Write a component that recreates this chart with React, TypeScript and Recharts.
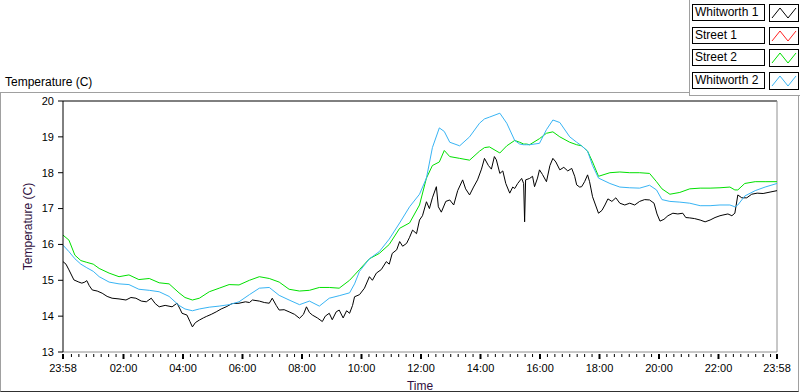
import { LineChart, Line, XAxis, YAxis, ReferenceLine } from 'recharts';

// all times are minutes after 23:58 (start of the record)

// Whitworth 1 is logged more finely, so it has its own time list
const w1Minutes = [
  0, 6, 12, 22, 32, 38, 44, 48, 53, 59, 69, 79, 89, 99, 113, 127, 137, 147, 158, 168,
  178, 186, 194, 206, 220, 230, 236, 240, 250, 256, 261, 267, 275, 283, 289, 299, 309, 319, 329, 341,
  355, 368, 376, 382, 396, 406, 416, 422, 430, 436, 446, 456, 467, 477, 485, 491, 497, 503, 513, 523,
  529, 537, 543, 551, 557, 565, 572, 578, 584, 588, 598, 608, 618, 624, 632, 642, 652, 658, 664, 673,
  679, 685, 693, 699, 705, 713, 719, 725, 733, 739, 745, 753, 757, 763, 772, 780, 788, 796, 806, 812,
  820, 828, 836, 844, 850, 858, 864, 870, 874, 881, 887, 893, 901, 907, 911, 917, 925, 929, 931, 933,
  941, 947, 951, 957, 961, 967, 975, 982, 988, 994, 1002, 1010, 1018, 1026, 1032, 1036, 1042, 1046, 1052, 1058,
  1062, 1068, 1074, 1080, 1087, 1093, 1099, 1107, 1115, 1123, 1133, 1143, 1153, 1163, 1173, 1183, 1192, 1198, 1204, 1212,
  1220, 1230, 1240, 1250, 1256, 1264, 1274, 1285, 1295, 1305, 1315, 1325, 1331, 1341, 1349, 1355, 1361, 1369, 1379, 1389,
  1400, 1412, 1426, 1440,
];

const whitworth1 = [
  15.52, 15.45, 15.29, 15.01, 14.95, 14.92, 14.95, 14.99, 14.85, 14.73, 14.7, 14.64, 14.55, 14.5, 14.48, 14.45, 14.52, 14.5, 14.42, 14.4,
  14.5, 14.35, 14.26, 14.3, 14.26, 14.36, 14.2, 14.08, 14.03, 13.85, 13.7, 13.82, 13.89, 13.95, 13.99, 14.05, 14.12, 14.2, 14.26, 14.35,
  14.36, 14.4, 14.38, 14.45, 14.42, 14.38, 14.36, 14.5, 14.3, 14.17, 14.18, 14.12, 14.05, 13.94, 14.05, 14.26, 14.1, 14.03, 13.95, 13.85,
  14.0, 14.08, 13.9, 14.12, 14.17, 13.95, 14.15, 14.08, 14.3, 14.54, 14.6, 14.78, 15.1, 15.0, 15.2, 15.3, 15.52, 15.45, 15.75, 15.85,
  16.08, 15.95, 16.03, 16.2, 16.4, 16.3, 16.68, 16.8, 17.19, 17.0, 17.3, 17.61, 17.05, 16.9, 17.2, 17.24, 17.1, 17.5, 17.8, 17.55,
  17.38, 17.6, 17.8, 18.1, 18.4, 18.2, 18.1, 18.45, 18.36, 17.98, 18.05, 17.7, 17.43, 17.6, 17.56, 17.7, 17.84, 17.7, 16.63, 17.8,
  17.84, 17.9, 17.61, 17.85, 18.08, 17.95, 17.75, 18.2, 18.4, 18.3, 18.08, 18.15, 18.05, 18.12, 17.9, 17.66, 17.6, 17.61, 17.75, 17.94,
  17.75, 17.33, 17.1, 16.87, 16.95, 17.1, 17.27, 17.2, 17.3, 17.15, 17.1, 17.15, 17.1, 17.2, 17.25, 17.24, 17.15, 16.85, 16.65, 16.7,
  16.8, 16.87, 16.85, 16.87, 16.75, 16.74, 16.72, 16.68, 16.63, 16.68, 16.75, 16.8, 16.82, 16.85, 16.8, 16.87, 17.38, 17.3, 17.3, 17.4,
  17.43, 17.42, 17.46, 17.5,
];

const minutes = [
  0, 12, 24, 36, 48, 61, 73, 93, 113, 133, 153, 174, 194, 214, 234, 246, 261, 275, 295, 315,
  335, 355, 376, 396, 416, 436, 456, 477, 497, 517, 537, 557, 578, 588, 598, 618, 638, 658, 679, 699,
  719, 733, 745, 759, 769, 780, 800, 820, 840, 850, 860, 881, 895, 911, 921, 929, 931, 935, 941, 961,
  975, 988, 1002, 1022, 1036, 1046, 1058, 1068, 1080, 1103, 1123, 1143, 1163, 1183, 1197, 1208, 1224, 1244, 1264, 1285,
  1305, 1325, 1345, 1355, 1361, 1375, 1396, 1416, 1440,
];

const street1: number[] = []; // no readings logged

const street2 = [
  16.26, 16.12, 15.7, 15.55, 15.5, 15.45, 15.33, 15.2, 15.1, 15.15, 15.02, 15.05, 14.93, 14.9, 14.65, 14.52, 14.45, 14.5, 14.68, 14.78,
  14.88, 14.87, 15.0, 15.1, 15.05, 14.95, 14.75, 14.7, 14.72, 14.8, 14.8, 14.78, 15.0, 15.15, 15.3, 15.6, 15.75, 16.0, 16.45, 16.6,
  17.1, 17.85, 18.2, 18.3, 18.62, 18.45, 18.4, 18.35, 18.6, 18.7, 18.72, 18.55, 18.75, 18.9, 18.85, 18.8, 18.8, 18.8, 18.78, 18.95,
  19.1, 19.14, 19.0, 18.85, 18.78, 18.75, 18.6, 18.3, 17.9, 18.0, 18.02, 18.0, 18.0, 17.98, 17.75, 17.55, 17.4, 17.45, 17.55, 17.57,
  17.57, 17.58, 17.6, 17.52, 17.52, 17.7, 17.75, 17.75, 17.75,
];

const whitworth2 = [
  15.98, 15.8, 15.6, 15.45, 15.35, 15.25, 15.1, 14.95, 14.9, 14.88, 14.75, 14.72, 14.68, 14.55, 14.3, 14.2, 14.15, 14.2, 14.25, 14.28,
  14.32, 14.4, 14.6, 14.78, 14.8, 14.58, 14.45, 14.32, 14.42, 14.28, 14.5, 14.57, 14.65, 14.9, 15.25, 15.6, 15.8, 16.15, 16.6, 17.05,
  17.4, 17.85, 18.7, 19.25, 19.15, 18.85, 18.75, 19.0, 19.38, 19.5, 19.55, 19.66, 19.38, 18.9, 18.8, 18.78, 18.78, 18.78, 18.78, 18.82,
  19.2, 19.47, 19.4, 19.0, 18.85, 18.75, 18.6, 18.2, 17.85, 17.7, 17.6, 17.58, 17.57, 17.65, 17.52, 17.25, 17.2, 17.18, 17.15, 17.08,
  17.08, 17.1, 17.1, 17.05, 17.1, 17.35, 17.5, 17.6, 17.7,
];

const seriesNames = ['Whitworth 1', 'Street 1', 'Street 2', 'Whitworth 2'];
const seriesColors = ['#000000', '#ff2020', '#00e000', '#38b4f4'];
const seriesData = [
  w1Minutes.map((t, i) => ({ t, v: whitworth1[i] })),
  street1.map((v, i) => ({ t: minutes[i], v })),
  minutes.map((t, i) => ({ t, v: street2[i] })),
  minutes.map((t, i) => ({ t, v: whitworth2[i] })),
];

const majorTicks = [0, 122, 242, 362, 482, 602, 722, 842, 962, 1082, 1202, 1322, 1440];
const majorLabels = ['23:58', '02:00', '04:00', '06:00', '08:00', '10:00', '12:00', '14:00', '16:00', '18:00', '20:00', '22:00', '23:58'];
const yTicks = [13, 14, 15, 16, 17, 18, 19, 20];

// minor ticks every 15 min on the clock, between the labelled ones
const minorTicks: number[] = [];
for (let m = 17; m < 1440; m += 15) {
  if (!majorTicks.some((t) => Math.abs(t - m) < 4)) minorTicks.push(m);
}
const allTicks = [...majorTicks, ...minorTicks].sort((a, b) => a - b);

const font = '"Liberation Sans", Arial, sans-serif';

const TimeTick = (props: any) => {
  const { x, y, payload } = props;
  const idx = majorTicks.indexOf(payload.value);
  const major = idx >= 0;
  return (
    <g>
      <line x1={x} x2={x} y1={y + 2} y2={y + (major ? 7 : 5)} stroke="#000" strokeWidth={major ? 2 : 1} />
      {major && (
        <text x={x} y={y + 20} textAnchor="middle" fontSize={11} fontFamily={font} fill="#000">
          {majorLabels[idx]}
        </text>
      )}
    </g>
  );
};

const Swatch = ({ color }: { color: string }) => (
  <svg width={28} height={16} style={{ display: 'block' }}>
    <polyline points="2,13 10,3 18,13 26,3" fill="none" stroke={color} strokeWidth={1} />
  </svg>
);

export default function App() {
  return (
    <div style={{ position: 'absolute', left: 0, top: 0, width: 800, height: 392, background: '#fff', fontFamily: font, overflow: 'hidden' }}>
      <div style={{ position: 'absolute', left: 0, top: 92, width: 797, height: 298, borderTop: '1px solid #a0a0a0', borderLeft: '1px solid #a0a0a0', borderRight: '1px solid #a0a0a0', borderBottom: '1px solid #303030' }} />
      <div style={{ position: 'absolute', left: 5, top: 75, fontSize: 12, color: '#000' }}>Temperature (C)</div>
      <div style={{ position: 'absolute', left: 0, top: 0 }}>
        <LineChart width={800} height={392} margin={{ top: 101, right: 23, bottom: 0, left: 0 }}>
          <XAxis
            dataKey="t"
            type="number"
            domain={[0, 1440]}
            ticks={allTicks}
            interval={0}
            tick={<TimeTick />}
            tickLine={false}
            tickSize={0}
            tickMargin={0}
            height={40}
            stroke="#909090"
            allowDuplicatedCategory={false}
            label={{ value: 'Time', position: 'insideBottom', offset: 2, fontSize: 12, fill: '#301040', fontFamily: font }}
          />
          <YAxis
            type="number"
            domain={[13, 20]}
            ticks={yTicks}
            interval={0}
            width={63}
            tickSize={5}
            tickMargin={4}
            stroke="#000"
            tick={{ fontSize: 11, fill: '#000', fontFamily: font }}
            label={{ value: 'Temperature (C)', angle: -90, position: 'insideLeft', offset: 28, style: { textAnchor: 'middle' }, fontSize: 12, fill: '#301040', fontFamily: font }}
          />
          <ReferenceLine y={20} stroke="#000" />
          <ReferenceLine x={1440} stroke="#909090" />
          {seriesData.map((d, i) => (
            <Line
              key={seriesNames[i]}
              data={d}
              dataKey="v"
              name={seriesNames[i]}
              type="linear"
              stroke={seriesColors[i]}
              strokeWidth={1}
              dot={false}
              isAnimationActive={false}
            />
          ))}
        </LineChart>
      </div>
      <div style={{ position: 'absolute', left: 689, top: 0, width: 111, height: 95, background: '#fff', borderLeft: '1px solid #a0a0a0', borderBottom: '1px solid #a0a0a0' }}>
        {seriesNames.map((name, i) => (
          <div key={name} style={{ position: 'absolute', left: 2, top: 4 + i * 22.7, display: 'flex', gap: 3 }}>
            <div style={{ width: 69, height: 15, border: '1px solid #000', fontSize: 12, lineHeight: '15px', paddingLeft: 2, boxSizing: 'content-box', whiteSpace: 'nowrap', overflow: 'hidden' }}>
              {name}
            </div>
            <div style={{ border: '1px solid #000', height: 16, width: 28, marginLeft: 1 }}>
              <Swatch color={seriesColors[i]} />
            </div>
          </div>
        ))}
      </div>
    </div>
  );
}
